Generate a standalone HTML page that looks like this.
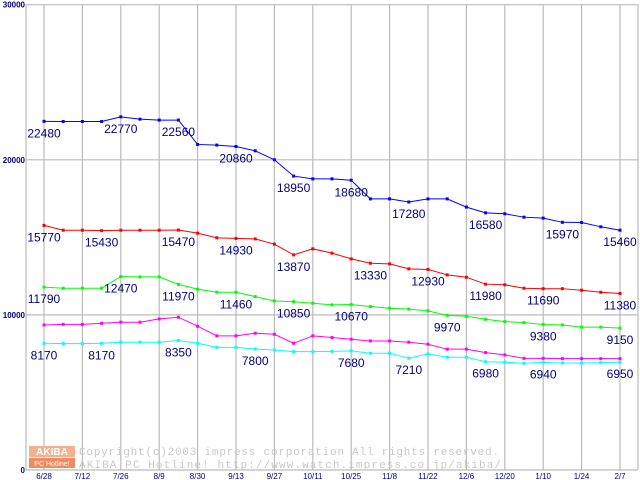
<!DOCTYPE html>
<html><head><meta charset="utf-8"><style>
body{margin:0;background:#fff;width:640px;height:480px;overflow:hidden}
svg{display:block}
</style></head><body>
<svg id="chart" width="640" height="480" xmlns="http://www.w3.org/2000/svg" font-family="Liberation Sans, sans-serif"></svg>
<script>
const categories=["6/28","7/12","7/26","8/9","8/30","9/13","9/27","10/11","10/25","11/8","11/22","12/6","12/20","1/10","1/24","2/7"];
const yTicks=[0,10000,20000,30000];
const blueValues=[22480,22470,22470,22470,22770,22620,22560,22560,20990,20950,20860,20580,20000,18950,18770,18770,18680,17480,17480,17280,17480,17480,16950,16580,16520,16300,16240,15970,15960,15680,15460];
const redValues=[15770,15460,15460,15430,15460,15460,15460,15470,15270,14970,14930,14900,14560,13870,14260,13980,13610,13330,13290,12970,12930,12580,12430,11980,11940,11720,11690,11690,11590,11460,11380];
const greenValues=[11790,11720,11720,11720,12470,12450,12450,11970,11660,11460,11460,11180,10900,10850,10750,10650,10670,10540,10430,10370,10260,9970,9910,9720,9570,9500,9380,9350,9210,9210,9150];
const magentaValues=[9350,9390,9390,9460,9530,9530,9740,9850,9270,8650,8650,8820,8750,8170,8650,8540,8430,8320,8320,8240,8110,7790,7790,7570,7420,7200,7200,7180,7180,7180,7180];
const cyanValues=[8170,8150,8150,8170,8240,8240,8240,8350,8170,7910,7910,7800,7740,7630,7630,7650,7680,7530,7530,7210,7480,7270,7270,6980,6950,6880,6940,6900,6900,6920,6950];
const blueLabels=[0,4,7,10,13,16,19,23,27,30];
const redLabels=[0,3,7,10,13,17,20,23,26,30];
const greenLabels=[0,4,7,10,13,16,21,26,30];
const cyanLabels=[0,3,7,11,16,19,23,26,30];

const svg=document.getElementById('chart');
const NS='http://www.w3.org/2000/svg';
const X0=44,XSTEP=19.2,Y0=470,YSCALE=155.1/10000;
const x=i=>X0+i*XSTEP;
const y=v=>Y0-v*YSCALE;
function mk(tag,attrs,parent){const e=document.createElementNS(NS,tag);for(const k in attrs)e.setAttribute(k,attrs[k]);(parent||svg).appendChild(e);return e;}

const grid=mk('g',{});


mk('line',{x1:26,y1:4.5,x2:26,y2:470,stroke:'#bbb','stroke-width':1.2},grid);
mk('line',{x1:638,y1:4.5,x2:638,y2:470,stroke:'#bbb','stroke-width':1.2},grid);
categories.forEach((c,k)=>{mk('line',{x1:x(2*k),y1:4.5,x2:x(2*k),y2:470,stroke:'#bbb','stroke-width':1.2},grid);});
yTicks.forEach(t=>{mk('line',{x1:26,y1:y(t),x2:638,y2:y(t),stroke:'#bbb','stroke-width':1.2},grid);});

const wm=mk('g',{});


mk('rect',{x:29,y:446,width:46,height:11,fill:'#f6b090'},wm);
mk('rect',{x:29,y:458,width:46,height:10,fill:'#f08a60'},wm);
let t=mk('text',{x:52,y:455,'font-size':10,fill:'#fff','text-anchor':'middle','font-weight':'bold'},wm);t.textContent='AKIBA';
t=mk('text',{x:52,y:466,'font-size':7,fill:'#fff','text-anchor':'middle'},wm);t.textContent='PC Hotline!';
t=mk('text',{x:79,y:455,'font-size':11,fill:'#c8c8c8','font-family':'Liberation Mono, monospace',textLength:420},wm);t.textContent='Copyright(c)2003 impress corporation All rights reserved.';
t=mk('text',{x:79,y:468,'font-size':11,fill:'#c8c8c8','font-family':'Liberation Mono, monospace',textLength:422},wm);t.textContent='AKIBA PC Hotline!  http://www.watch.impress.co.jp/akiba/';

yTicks.forEach(v=>{const e=mk('text',{x:25,y:y(v)+3,'font-size':8,'font-weight':'bold',fill:'#000080','text-anchor':'end'});


e.textContent=v;});
categories.forEach((c,k)=>{const e=mk('text',{x:x(2*k),y:479,'font-size':8,fill:'#000080','text-anchor':'middle'});


e.textContent=c;});

function series(vals,color,name,labels){
  const g=mk('g',{});
  
  
  mk('polyline',{points:vals.map((v,i)=>x(i)+','+y(v)).join(' '),fill:'none',stroke:color,'stroke-width':1},g);
  vals.forEach((v,i)=>{const r=mk('rect',{x:x(i)-1.5,y:y(v)-1.5,width:3,height:3,fill:color},g);
    
    });
  (labels||[]).forEach(i=>{const e=mk('text',{x:x(i),y:y(vals[i])+16,'font-size':12,fill:'#000080','text-anchor':'middle'},g);
    
    
    e.textContent=vals[i];});
}
series(blueValues,'#0000ff','series-blue',blueLabels);
series(redValues,'#ff0000','series-red',redLabels);
series(greenValues,'#00ff00','series-green',greenLabels);
series(magentaValues,'#ff00ff','series-magenta',[]);
series(cyanValues,'#00ffff','series-cyan',cyanLabels);
</script>
</body></html>
